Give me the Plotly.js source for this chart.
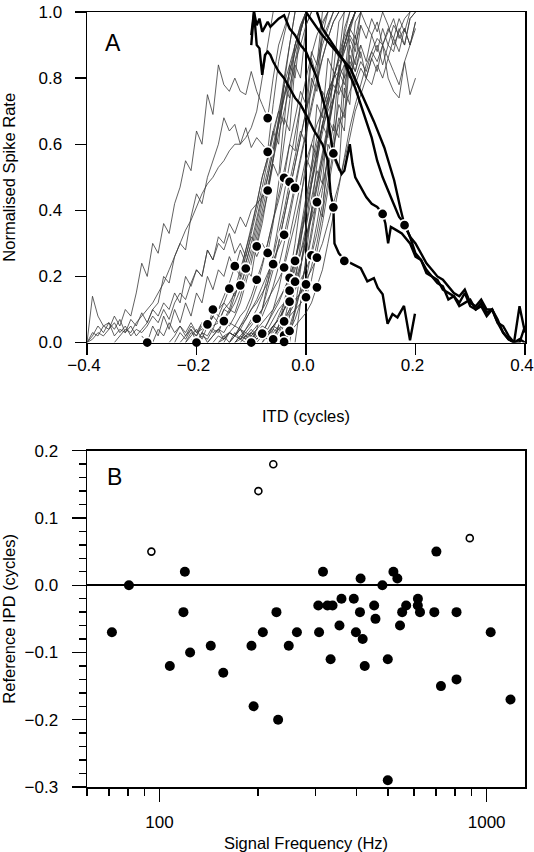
<!DOCTYPE html>
<html>
<head>
<meta charset="utf-8">
<script src="https://cdn.plot.ly/plotly-3.0.1.min.js"></script>
<style>html,body{margin:0;padding:0;background:#fff;}#chart{width:534px;height:852px;}</style>
</head>
<body>
<div id="chart"></div>
<script>
// ---------- Panel A: normalised rate-ITD functions (ITD sampled every 0.01 cycle) ----------
const itdStep = 0.01;
const grayStart = [-0.40,-0.40,-0.35,-0.40,-0.40,-0.30,-0.28,-0.25,-0.24,-0.22,
                   -0.23,-0.22,-0.21,-0.20,-0.19,-0.18,-0.17,-0.16,-0.16,-0.15,
                   -0.14,-0.15,-0.14,-0.13,-0.12,-0.11,-0.13,-0.13,-0.12,-0.11,
                   -0.10,-0.11,-0.11,-0.10,-0.09,-0.08,-0.08,-0.07,-0.07,-0.06,
                   -0.06,-0.05,-0.04,-0.03,-0.02];
const grayRate = [
 [0.0,0.03,0.02,0.05,0.04,0.08,0.05,0.1,0.08,0.15,0.24,0.2,0.3,0.27,0.36,0.33,0.42,0.47,0.55,0.52,0.64,0.6,0.75,0.69,0.84,0.78,0.76,0.8,0.76,0.75,0.82,0.76,0.72,0.68,0.8,0.9,0.95,1.0],
 [0.0,0.14,0.08,0.05,0.06,0.04,0.07,0.03,0.05,0.02,0.04,0.06,0.1,0.12,0.2,0.18,0.26,0.3,0.28,0.38,0.45,0.42,0.5,0.55,0.6,0.68,0.64,0.66,0.6,0.65,0.59,0.62,0.6,0.58,0.72,0.85,0.93,1.0],
 [0.0,0.02,0.04,0.03,0.06,0.08,0.1,0.12,0.15,0.18,0.22,0.26,0.3,0.34,0.37,0.41,0.45,0.48,0.5,0.53,0.55,0.58,0.6,0.6,0.62,0.65,0.7,0.8,0.9,1.0],
 [0.0,0.02,0.05,0.03,0.06,0.02,0.04,0.03,0.07,0.05,0.09,0.06,0.1,0.08,0.12,0.1,0.15,0.12,0.2,0.17,0.22,0.2,0.28,0.25,0.32,0.3,0.36,0.33,0.38,0.35,0.4,0.42,0.44,0.46,0.56,0.68,0.8,0.9,1.0],
 [0.0,0.01,0.03,0.02,0.04,0.06,0.03,0.05,0.02,0.04,0.03,0.05,0.08,0.06,0.1,0.07,0.12,0.15,0.13,0.18,0.22,0.2,0.28,0.25,0.3,0.28,0.33,0.27,0.3,0.26,0.32,0.29,0.36,0.45,0.55,0.66,0.78,0.9,1.0],
 [0.02,0.0,0.05,0.02,0.08,0.04,0.1,0.06,0.12,0.08,0.15,0.12,0.2,0.16,0.22,0.2,0.26,0.22,0.28,0.24,0.3,0.26,0.3,0.27,0.36,0.48,0.6,0.72,0.85,0.94,1.0],
 [0.0,0.04,0.02,0.06,0.03,0.05,0.02,0.04,0.0,0.03,0.06,0.04,0.08,0.07,0.1,0.09,0.14,0.2,0.26,0.34,0.42,0.5,0.58,0.66,0.74,0.82,0.88,0.94,1.0],
 [0.0,0.02,0.05,0.03,0.06,0.03,0.04,0.055,0.08,0.06,0.1,0.09,0.14,0.19,0.24,0.3,0.38,0.45,0.52,0.6,0.68,0.75,0.82,0.9,0.96,1.0],
 [0.0,0.03,0.01,0.04,0.02,0.06,0.04,0.1,0.08,0.12,0.1,0.16,0.22,0.28,0.35,0.42,0.5,0.56,0.64,0.7,0.78,0.84,0.9,0.95,1.0],
 [0.0,0.02,0.04,0.01,0.05,0.03,0.04,0.065,0.05,0.08,0.12,0.18,0.24,0.32,0.4,0.48,0.56,0.63,0.7,0.78,0.85,0.9,0.96,1.0],
 [0.0,0.02,0.05,0.03,0.06,0.04,0.08,0.1,0.12,0.163,0.14,0.2,0.26,0.33,0.4,0.47,0.55,0.62,0.7,0.66,0.84,0.8,0.95,1.0],
 [0.0,0.03,0.02,0.05,0.04,0.08,0.1,0.14,0.18,0.231,0.2,0.28,0.34,0.42,0.5,0.56,0.64,0.6,0.78,0.74,0.9,0.96,1.0],
 [0.01,0.0,0.03,0.02,0.05,0.06,0.1,0.12,0.15,0.173,0.22,0.28,0.36,0.44,0.5,0.58,0.66,0.74,0.8,0.88,0.94,1.0],
 [0.0,0.02,0.01,0.04,0.03,0.07,0.09,0.12,0.16,0.224,0.2,0.3,0.38,0.45,0.54,0.5,0.68,0.64,0.84,0.8,0.96,1.0],
 [0.03,0.0,0.02,0.04,0.01,0.03,0.02,0.04,0.01,0.0,0.04,0.1,0.18,0.27,0.36,0.46,0.55,0.64,0.72,0.8,0.87,0.93,0.97,1.0],
 [0.0,0.02,0.04,0.03,0.06,0.05,0.08,0.1,0.14,0.19,0.24,0.3,0.37,0.45,0.52,0.6,0.68,0.76,0.72,0.88,0.84,1.0],
 [0.0,0.02,0.01,0.03,0.02,0.04,0.03,0.05,0.072,0.1,0.16,0.22,0.3,0.38,0.46,0.55,0.62,0.7,0.78,0.85,0.92,0.96,1.0],
 [0.0,0.01,0.03,0.02,0.04,0.02,0.03,0.01,0.027,0.06,0.1,0.16,0.24,0.32,0.4,0.48,0.56,0.52,0.72,0.68,0.86,0.82,0.97,1.0],
 [0.0,0.02,0.03,0.05,0.04,0.07,0.1,0.12,0.15,0.18,0.237,0.3,0.38,0.46,0.54,0.62,0.7,0.76,0.83,0.9,0.95,1.0],
 [0.02,0.0,0.03,0.01,0.02,0.04,0.02,0.03,0.01,0.01,0.05,0.1,0.17,0.25,0.33,0.42,0.5,0.58,0.66,0.74,0.8,0.86,0.92,0.96,1.0],
 [0.0,0.02,0.05,0.08,0.12,0.17,0.23,0.3,0.37,0.43,0.498,0.6,0.58,0.72,0.68,0.86,0.8,0.96,1.0],
 [0.0,0.03,0.02,0.05,0.07,0.1,0.13,0.17,0.21,0.25,0.29,0.326,0.4,0.48,0.56,0.64,0.72,0.8,0.86,0.92,0.97,1.0],
 [0.0,0.02,0.01,0.04,0.06,0.08,0.1,0.13,0.16,0.19,0.227,0.29,0.36,0.44,0.52,0.6,0.56,0.76,0.72,0.9,0.86,1.0],
 [0.0,0.02,0.01,0.03,0.02,0.04,0.03,0.05,0.04,0.064,0.1,0.16,0.23,0.31,0.4,0.49,0.58,0.66,0.74,0.82,0.88,0.94,1.0],
 [0.01,0.0,0.02,0.01,0.03,0.02,0.01,0.03,0.022,0.05,0.1,0.16,0.24,0.32,0.42,0.38,0.6,0.56,0.78,0.74,0.92,0.88,1.0],
 [0.02,0.0,0.01,0.03,0.01,0.02,0.0,0.002,0.04,0.09,0.16,0.24,0.34,0.44,0.54,0.64,0.73,0.82,0.9,0.96,1.0],
 [0.0,0.02,0.04,0.07,0.1,0.14,0.2,0.26,0.33,0.4,0.486,0.56,0.64,0.6,0.8,0.76,0.93,1.0],
 [0.0,0.01,0.03,0.02,0.04,0.06,0.08,0.1,0.13,0.16,0.196,0.25,0.32,0.4,0.48,0.56,0.64,0.72,0.8,0.87,0.93,1.0],
 [0.0,0.02,0.01,0.03,0.05,0.04,0.07,0.1,0.12,0.157,0.2,0.27,0.35,0.43,0.52,0.48,0.68,0.64,0.84,0.8,0.95,1.0],
 [0.01,0.0,0.02,0.03,0.02,0.05,0.07,0.1,0.124,0.17,0.23,0.3,0.38,0.47,0.56,0.65,0.74,0.82,0.9,0.96,1.0],
 [0.0,0.02,0.01,0.03,0.02,0.04,0.03,0.035,0.07,0.12,0.19,0.27,0.36,0.46,0.56,0.66,0.62,0.84,0.8,0.97,1.0],
 [0.0,0.03,0.05,0.08,0.12,0.17,0.23,0.3,0.38,0.468,0.55,0.63,0.71,0.79,0.86,0.92,0.97,1.0],
 [0.0,0.02,0.04,0.03,0.06,0.09,0.12,0.16,0.2,0.247,0.31,0.39,0.48,0.57,0.66,0.62,0.82,0.78,0.95,1.0],
 [0.0,0.01,0.03,0.02,0.05,0.07,0.1,0.13,0.184,0.24,0.31,0.39,0.47,0.56,0.65,0.74,0.82,0.9,0.96,1.0],
 [0.0,0.02,0.01,0.03,0.05,0.07,0.1,0.13,0.15,0.176,0.23,0.3,0.39,0.48,0.58,0.68,0.64,0.87,0.82,0.9],
 [0.0,0.02,0.04,0.03,0.06,0.08,0.1,0.12,0.137,0.19,0.27,0.36,0.46,0.56,0.52,0.77,0.72,0.93,0.86],
 [0.0,0.03,0.05,0.07,0.1,0.13,0.16,0.19,0.22,0.264,0.33,0.42,0.52,0.62,0.72,0.68,0.9,0.84,0.96],
 [0.0,0.04,0.08,0.12,0.17,0.22,0.27,0.32,0.37,0.425,0.48,0.55,0.6,0.66,0.7,0.76,0.8,0.85,0.82,0.88,0.85,0.9,0.86,0.92,0.88,0.95,0.9,0.97],
 [0.0,0.02,0.04,0.06,0.09,0.12,0.15,0.19,0.22,0.257,0.3,0.36,0.42,0.48,0.55,0.62,0.7,0.75,0.8,0.78,0.84,0.8,0.86,0.82,0.78,0.85,0.75,0.8],
 [0.0,0.02,0.01,0.03,0.05,0.07,0.09,0.12,0.167,0.22,0.3,0.38,0.47,0.56,0.65,0.72,0.78,0.84,0.88,0.92,0.9,0.95,0.92,0.98,0.94,1.0],
 [0.0,0.05,0.12,0.2,0.3,0.42,0.55,0.6,0.66,0.7,0.76,0.8,0.86,0.9,0.95,0.92,1.0,0.96,0.93,0.97,0.9,0.94,0.98,0.92,0.95,0.9,0.97],
 [0.0,0.06,0.14,0.24,0.34,0.44,0.52,0.6,0.65,0.7,0.74,0.8,0.84,0.8,0.86,0.9,0.85,0.93,0.88,0.95,0.9,0.96,0.93,0.9,0.98,1.0],
 [0.0,0.08,0.18,0.3,0.42,0.54,0.62,0.7,0.76,0.8,0.82,0.78,0.85,0.82,0.88,0.8,0.86,0.9,0.84,0.9,0.88,0.95,0.9,0.98,1.0],
 [0.0,0.1,0.22,0.35,0.48,0.58,0.66,0.72,0.78,0.75,0.8,0.84,0.78,0.83,0.8,0.86,0.82,0.9,0.8,0.76,0.74,0.85,0.9,0.95],
 [0.0,0.12,0.26,0.4,0.54,0.66,0.74,0.8,0.85,0.88,0.93,0.9,0.96,0.92,0.98,0.94,1.0,0.96,0.9,0.94,0.98,1.0]
];

// Thick (highlighted) functions
const thickAItd  = [-0.1,-0.095,-0.09,-0.085,-0.08,-0.075,-0.07,-0.065,-0.06,-0.05,-0.04,-0.03,-0.02,-0.01,0.0,0.015,0.03,0.04,0.045,0.05,0.052,0.06,0.07,0.088,0.1,0.112,0.124,0.131,0.14,0.149,0.158,0.167,0.179,0.19,0.199];
const thickARate = [0.93,1.0,0.9,0.89,0.81,0.87,0.88,0.87,0.85,0.82,0.8,0.77,0.74,0.72,0.69,0.64,0.6,0.55,0.45,0.41,0.3,0.27,0.25,0.235,0.225,0.185,0.195,0.166,0.146,0.057,0.086,0.076,0.111,0.007,0.087];
const thickBItd  = [0.0,0.027,0.057,0.082,0.1,0.124,0.143,0.161,0.173,0.18,0.19,0.2,0.21,0.22,0.23,0.24,0.25,0.26,0.27,0.28,0.29,0.3,0.31,0.32,0.33,0.34,0.35,0.36,0.37,0.38,0.39,0.4];
const thickBRate = [1.0,0.936,0.877,0.827,0.758,0.669,0.59,0.491,0.402,0.355,0.32,0.27,0.25,0.22,0.2,0.19,0.16,0.15,0.14,0.12,0.15,0.11,0.1,0.12,0.09,0.1,0.06,0.05,0.02,0.0,0.01,0.0];
const thickCItd  = [-0.1,-0.095,-0.09,-0.085,-0.08,-0.07,-0.065,-0.05,-0.04,-0.03,-0.02,-0.01,0.0,0.01,0.02,0.03,0.04,0.045,0.05,0.055,0.06,0.065,0.07,0.075,0.08,0.085,0.09,0.1,0.11,0.12,0.13,0.14,0.145,0.15,0.155,0.165,0.175,0.19,0.2,0.21,0.22,0.23,0.24,0.25,0.26,0.27,0.28,0.29,0.3,0.31,0.32,0.33,0.34,0.35,0.36,0.37,0.38,0.39,0.4];
const thickCRate = [0.9,1.0,0.96,0.98,0.94,0.97,0.955,0.98,0.99,0.95,0.93,0.9,0.88,0.84,0.8,0.74,0.68,0.62,0.57,0.55,0.53,0.51,0.52,0.56,0.6,0.54,0.5,0.47,0.44,0.42,0.41,0.39,0.36,0.3,0.35,0.34,0.33,0.3,0.26,0.25,0.21,0.2,0.18,0.17,0.13,0.14,0.11,0.12,0.13,0.1,0.11,0.08,0.1,0.06,0.03,0.01,0.0,0.11,0.03];
const thickDItd  = [0.02,0.03,0.05,0.07,0.09,0.1,0.12,0.13,0.14,0.16,0.17,0.18,0.19,0.2,0.21,0.22,0.23,0.24,0.25,0.26,0.27,0.28,0.29,0.3,0.31,0.32,0.33,0.34,0.35,0.36,0.37,0.38,0.39,0.4];
const thickDRate = [1.0,0.95,0.9,0.85,0.77,0.72,0.62,0.55,0.5,0.42,0.38,0.36,0.32,0.3,0.27,0.24,0.22,0.2,0.19,0.17,0.15,0.14,0.16,0.12,0.11,0.13,0.1,0.1,0.07,0.03,0.01,0.0,0.0,0.05];

// Reference points (ITD, normalised rate)
const refItd  = [-0.29,-0.2,-0.18,-0.17,-0.15,-0.14,-0.13,-0.12,-0.11,-0.1,-0.09,-0.09,-0.09,-0.08,-0.07,-0.07,-0.07,-0.07,-0.06,-0.06,-0.04,-0.04,-0.04,-0.04,-0.04,-0.04,-0.03,-0.03,-0.03,-0.03,-0.03,-0.02,-0.02,-0.02,0.0,0.0,0.01,0.02,0.02,0.02,0.05,0.05,0.07,0.14,0.18];
const refRate = [0.0,0.0,0.055,0.1,0.065,0.163,0.231,0.173,0.224,0.0,0.291,0.19,0.072,0.027,0.679,0.577,0.46,0.271,0.237,0.01,0.498,0.326,0.227,0.064,0.022,0.002,0.486,0.196,0.157,0.124,0.035,0.468,0.247,0.184,0.176,0.137,0.264,0.425,0.257,0.167,0.572,0.409,0.247,0.389,0.355];

// ---------- Panel B: reference IPD vs signal frequency ----------
const freqFilled = [71.5,80.6,119.5,118.3,107.5,124,143.4,156.6,191,193.9,206.9,227.7,230.4,248.3,263,305.7,307.4,316,326,333.4,338,354.8,359.9,392.5,398.4,409.9,411.8,417.8,423.9,453,457.2,480,498.6,498.6,518.8,533.4,543.4,551.7,567.6,616.4,616,625.5,691.9,702,725,809,809,1029,1183];
const ipdFilled  = [-0.07,0,0.02,-0.04,-0.12,-0.10,-0.09,-0.13,-0.09,-0.18,-0.07,-0.04,-0.20,-0.09,-0.07,-0.03,-0.07,0.02,-0.03,-0.11,-0.03,-0.06,-0.02,-0.02,-0.07,-0.04,0.01,-0.08,-0.12,-0.03,-0.05,0,-0.11,-0.29,0.02,0.01,-0.06,-0.04,-0.03,-0.02,-0.03,-0.04,-0.04,0.05,-0.15,-0.04,-0.14,-0.07,-0.17];
const freqOpen = [94.4,200.5,222.7,888];
const ipdOpen  = [0.05,0.14,0.18,0.07];

const freqMajorTicks = [100,1000];
const freqMinorTicks = [60,70,80,90,200,300,400,500,600,700,800,900];

// ---------- build traces ----------
const traces = [];
grayRate.forEach((r,i)=>{
  const xs = r.map((_,k)=> +(grayStart[i] + k*itdStep).toFixed(3));
  traces.push({x:xs, y:r, type:'scatter', mode:'lines', xaxis:'x', yaxis:'y',
    line:{color:'#3a3a3a', width:0.8}, hoverinfo:'skip'});
});
[[thickAItd,thickARate],[thickBItd,thickBRate],[thickCItd,thickCRate],[thickDItd,thickDRate]].forEach(p=>{
  traces.push({x:p[0], y:p[1], type:'scatter', mode:'lines', xaxis:'x', yaxis:'y',
    line:{color:'#000', width:2.4}});
});
traces.push({x:refItd, y:refRate, type:'scatter', mode:'markers', xaxis:'x', yaxis:'y', cliponaxis:false,
  marker:{size:10.5, color:'#000', line:{color:'#fff', width:1.8}}});
traces.push({x:freqFilled, y:ipdFilled, type:'scatter', mode:'markers', xaxis:'x2', yaxis:'y2', cliponaxis:false,
  marker:{size:10, color:'#000', line:{width:0}}});
traces.push({x:freqOpen, y:ipdOpen, type:'scatter', mode:'markers', xaxis:'x2', yaxis:'y2', cliponaxis:false,
  marker:{size:7, color:'#fff', line:{color:'#000', width:1.6}}});

const FONT = 'Liberation Sans, Arial, Helvetica, sans-serif';
const axisBase = {showline:true, mirror:true, linecolor:'#000', linewidth:1.5, showgrid:false,
  ticks:'outside', tickcolor:'#000', tickwidth:1.4, ticklabeloverflow:'allow',
  tickfont:{family:FONT, size:17, color:'#000'}};

const layout = {
  width:534, height:852,
  margin:{l:87, r:9, t:12, b:65},
  paper_bgcolor:'#fff', plot_bgcolor:'#fff',
  showlegend:false,
  font:{family:FONT, color:'#000'},
  xaxis: Object.assign({}, axisBase, {
    anchor:'y', domain:[0,1], range:[-0.4,0.4],
    tickmode:'array', tickvals:[-0.4,-0.2,0,0.2,0.4], tickformat:'.1f', ticklen:11, ticklabelstandoff:-4,
    ticklabelshift:-3,
    zeroline:true, zerolinecolor:'#000', zerolinewidth:1.8,
    title:{text:'ITD (cycles)', font:{family:FONT, size:16.5, color:'#000'}, standoff:36}
  }),
  yaxis: Object.assign({}, axisBase, {
    anchor:'x', domain:[0.5735,1], range:[0,1],
    tickmode:'array', tickvals:[0,0.2,0.4,0.6,0.8,1.0], tickformat:'.1f', ticklen:11, ticklabelstandoff:9,
    zeroline:false,
    title:{text:'Normalised Spike Rate', font:{family:FONT, size:16.5, color:'#000'}, standoff:20}
  }),
  xaxis2: Object.assign({}, axisBase, {
    anchor:'y2', domain:[0,1], type:'log', range:[Math.log10(60), Math.log10(1310)],
    tickmode:'array', tickvals:freqMajorTicks, ticktext:freqMajorTicks.map(String), ticklen:13, ticklabelstandoff:6,
    minor:{tickmode:'array', tickvals:freqMinorTicks, ticklen:7, ticks:'outside', tickcolor:'#000', tickwidth:1.4, showgrid:false},
    zeroline:false,
    title:{text:'Signal Frequency (Hz)', font:{family:FONT, size:16.5, color:'#000'}, standoff:10}
  }),
  yaxis2: Object.assign({}, axisBase, {
    anchor:'x2', domain:[0,0.4339], range:[-0.3,0.2],
    tickmode:'linear', tick0:-0.3, dtick:0.1, tickformat:'.1f', ticklen:14, ticklabelstandoff:10,
    minor:{dtick:0.02, tick0:0, ticklen:7, ticks:'outside', tickcolor:'#000', tickwidth:1.4, showgrid:false},
    zeroline:true, zerolinecolor:'#000', zerolinewidth:1.5,
    title:{text:'Reference IPD (cycles)', font:{family:FONT, size:16.5, color:'#000'}, standoff:18}
  }),
  annotations:[
    {text:'A', xref:'x domain', yref:'y domain', x:0.037, y:0.905, xanchor:'left', yanchor:'middle',
     showarrow:false, font:{family:FONT, size:23, color:'#000'}},
    {text:'B', xref:'x2 domain', yref:'y2 domain', x:0.04, y:0.923, xanchor:'left', yanchor:'middle',
     showarrow:false, font:{family:FONT, size:23, color:'#000'}}
  ]
};

Plotly.newPlot('chart', traces, layout, {staticPlot:true, displayModeBar:false});
</script>
</body>
</html>
